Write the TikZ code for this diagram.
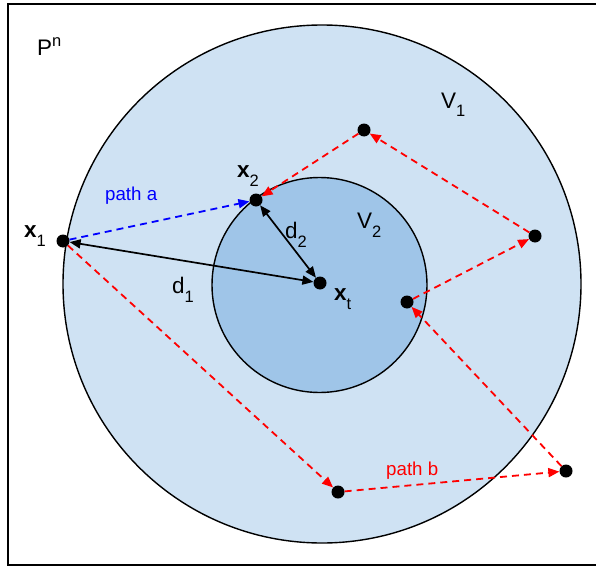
\documentclass[tikz,border=0pt]{standalone}
\usepackage{fontspec}
\setmainfont{Liberation Sans}
\usetikzlibrary{arrows.meta}
\definecolor{lbA}{HTML}{CFE2F3}
\definecolor{lbB}{HTML}{9FC5E8}
\newcommand\lsub[1]{\raisebox{-0.4em}{\fontsize{16.5}{16.5}\selectfont #1}}
\newcommand\lsup[1]{\raisebox{0.42em}{\fontsize{16.5}{16.5}\selectfont #1}}
\begin{document}
\begin{tikzpicture}[x=1pt,y=-1pt,
  dot/.style={circle,fill=black,inner sep=0pt,minimum size=13pt},
  lbl/.style={font=\fontsize{22.5}{22.5}\selectfont,inner sep=0pt,anchor=base west},
  pathlbl/.style={font=\fontsize{18.7}{18.7}\selectfont,inner sep=0pt,anchor=base west},
  tip/.style={-{Triangle[length=11pt,width=9pt]}},
  dtip/.style={{Triangle[length=11pt,width=9pt]}-{Triangle[length=11pt,width=9pt]}},
  redpath/.style={tip,red,line width=1.8pt,dash pattern=on 7pt off 5pt},
  bluepath/.style={tip,blue,line width=1.8pt,dash pattern=on 7pt off 5pt},
  dist/.style={dtip,black,line width=1.7pt},
  region/.style={circle,draw=black,line width=1.4pt,inner sep=0pt}]
\useasboundingbox (0,0) rectangle (596,567);
\draw[line width=2pt] (8,4) rectangle (620,565);
\node[region,fill=lbA,minimum size=518pt] (V1) at (322,284) {};
\node[region,fill=lbB,minimum size=215pt] (V2) at (319.5,285) {};
% points
\node[dot] (x1) at (63,241) {};
\node[dot] (x2) at (256,200) {};
\node[dot] (xt) at (320,283) {};
\node[dot] (pA) at (364,130) {};
\node[dot] (pB) at (535,236) {};
\node[dot] (pC) at (407,302) {};
\node[dot] (pD) at (566,471) {};
\node[dot] (pE) at (338,492) {};
% connectors
\draw[dist] (xt) -- (x1);
\draw[dist] (xt) -- (x2);
\draw[bluepath] (x1) -- (x2);
\draw[redpath] (x1) -- (pE);
\draw[redpath] (pE) -- (pD);
\draw[redpath] (pD) -- (pC);
\draw[redpath] (pC) -- (pB);
\draw[redpath] (pB) -- (pA);
\draw[redpath] (pA) -- (x2);
% labels
\node[lbl] (lP) at (37,56) {P\lsup{n}};
\node[lbl] (lV1) at (441,108) {V\lsub{1}};
\node[lbl] (lV2) at (357,228) {V\lsub{2}};
\node[lbl] (ld2) at (285,238) {d\lsub{2}};
\node[lbl] (ld1) at (172,293) {d\lsub{1}};
\node[lbl] (lxt) at (334,300) {\textbf{x}\lsub{t}};
\node[lbl] (lx1) at (24,237) {\textbf{x}\lsub{1}};
\node[lbl] (lx2) at (237,177) {\textbf{x}\lsub{2}};
\node[pathlbl,blue] (la) at (105,200) {path a};
\node[pathlbl,red] (lb) at (386,475) {path b};
\end{tikzpicture}
\end{document}
